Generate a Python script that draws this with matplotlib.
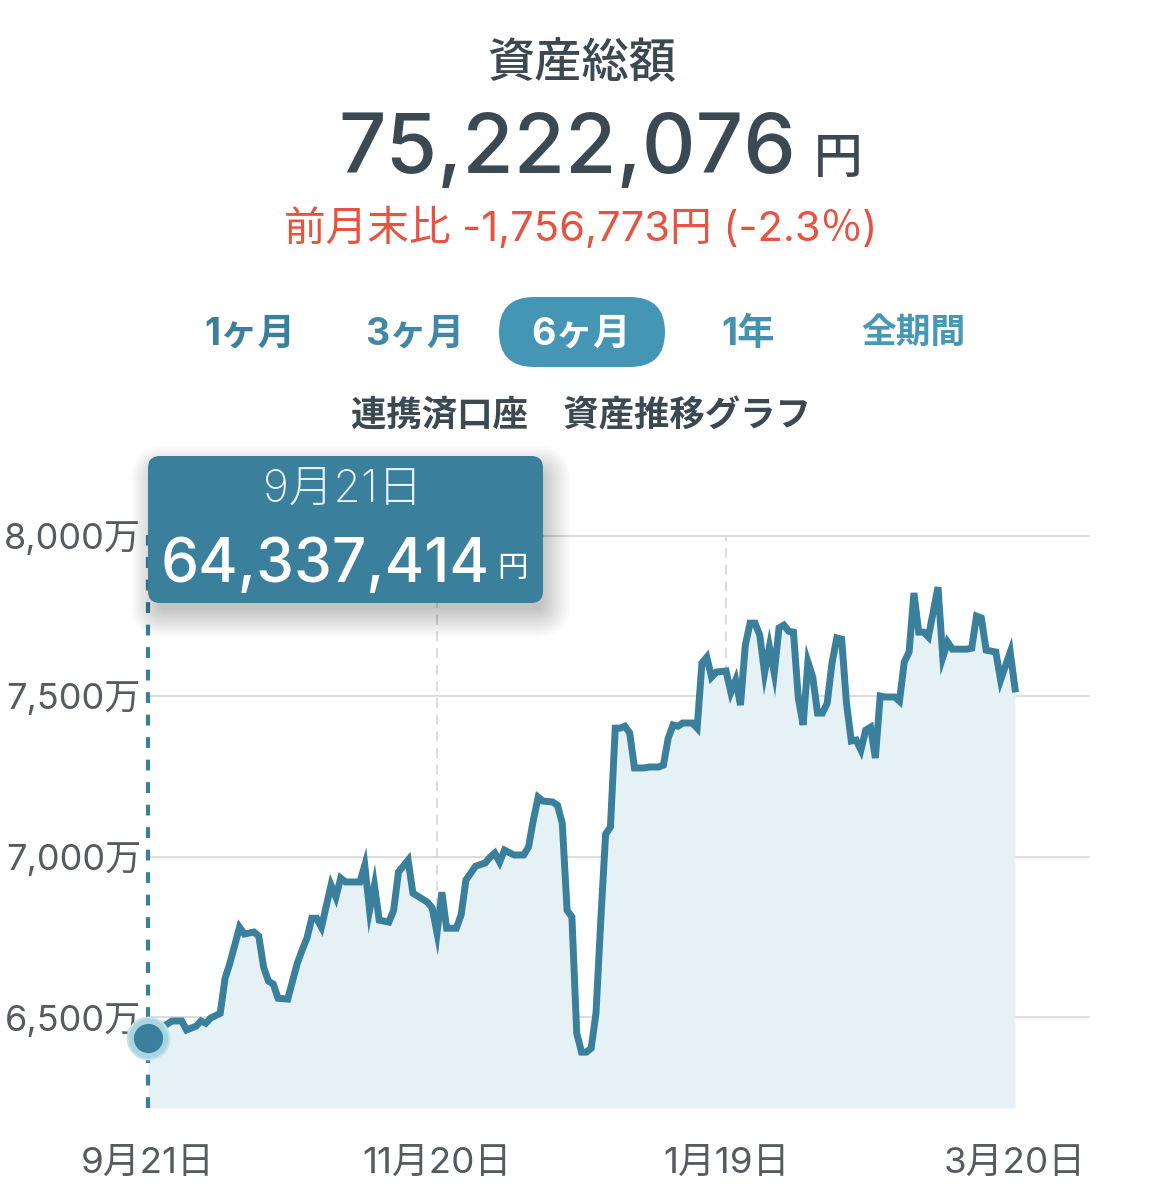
import matplotlib
matplotlib.use("Agg")
import matplotlib.pyplot as plt
from matplotlib.patches import FancyBboxPatch

# digits look wider than the CJK font's, so Inter goes first
plt.rcParams['font.family'] = ['Inter', 'Noto Sans CJK JP', 'DejaVu Sans']

W = 1163
H = 1199

# days since 9/21, total assets (unit: 万円)
days = [0, 3, 5, 7, 8, 10, 11, 12, 13, 15, 16, 17, 19, 20, 22, 23, 24, 25, 26, 27, 29,
        31, 32, 33, 34, 35, 36, 38, 39, 40, 41, 44, 45, 46, 47, 48, 50, 51, 52, 54, 55,
        58, 59, 60, 61, 62, 64, 65, 66, 68, 70, 71, 72, 73, 74, 76, 78, 79, 80, 81, 82,
        84, 85, 86, 87, 88, 89, 90, 91, 92, 93, 94, 95, 96, 97, 98, 99, 100, 101, 103,
        104, 106, 107, 108, 109, 110, 111, 113, 114, 115, 116, 117, 118, 120, 121, 122,
        123, 124, 125, 126, 127, 128, 129, 130, 131, 132, 133, 134, 135, 136, 137, 138,
        139, 140, 141, 142, 143, 144, 145, 146, 147, 148, 149, 150, 151, 152, 153, 155,
        156, 157, 158, 159, 160, 161, 162, 164, 165, 166, 167, 170, 171, 172, 173, 174,
        176, 177, 179, 180]
assets = [6434, 6469, 6488, 6488, 6460, 6472, 6488, 6481, 6497, 6512, 6621, 6668, 6780,
          6759, 6765, 6752, 6656, 6612, 6603, 6559, 6556, 6668, 6709, 6746, 6808, 6808,
          6780, 6911, 6874, 6933, 6921, 6921, 6973, 6833, 6911, 6802, 6796, 6833, 6952,
          6989, 6886, 6858, 6840, 6762, 6889, 6777, 6777, 6818, 6927, 6970, 6980, 6998,
          7011, 6983, 7020, 7005, 7005, 7030, 7114, 7185, 7173, 7170, 7160, 7104, 6833,
          6812, 6450, 6391, 6391, 6403, 6512, 6802, 7070, 7092, 7400, 7400, 7406, 7385,
          7276, 7276, 7279, 7279, 7285, 7369, 7410, 7406, 7416, 7416, 7400, 7603, 7621,
          7559, 7575, 7578, 7512, 7550, 7472, 7659, 7727, 7727, 7690, 7572, 7653, 7572,
          7712, 7721, 7702, 7699, 7494, 7410, 7606, 7559, 7447, 7447, 7478, 7603, 7681,
          7677, 7478, 7360, 7363, 7332, 7394, 7403, 7307, 7500, 7497, 7497, 7484, 7606,
          7637, 7821, 7699, 7699, 7684, 7839, 7621, 7668, 7646, 7646, 7649, 7749, 7743,
          7643, 7637, 7550, 7637, 7522]

y_ticks = [6500, 7000, 7500, 8000]
y_labels = ['6,500万', '7,000万', '7,500万', '8,000万']
x_ticks = [0, 60, 120, 180]
x_labels = ['9月21日', '11月20日', '1月19日', '3月20日']
selected_day = 0
selected_value = 6434

TEAL = '#3a7f9b'
DARK = '#3b4a52'
GRAY = '#555c60'
RED = '#e8533f'


def put(x, y, s, **kw):
    # x, y in pixels from the top left of the picture
    kw.setdefault('ha', 'center')
    kw.setdefault('va', 'center')
    return fig.text(x / W, 1 - y / H, s, **kw)


def box(x0, y0, x1, y1, r, **kw):
    p = FancyBboxPatch((x0, H - y1), x1 - x0, y1 - y0,
                       boxstyle='round,pad=0,rounding_size=%g' % r,
                       transform=px, **kw)
    fig.add_artist(p)
    return p


fig = plt.figure(figsize=(W / 100, H / 100), dpi=100, facecolor='white')
px = matplotlib.transforms.Affine2D().scale(1.0)

# chart
ax = fig.add_axes([148 / W, 1 - 1108 / H, 941 / W, 572.5 / H])
ax.set_xlim(0, 195.35)
ax.set_ylim(6217, 8000)
for s in ax.spines.values():
    s.set_visible(False)

for v in y_ticks:
    ax.axhline(v, color='#d6d8d8', lw=1.2, zorder=1, clip_on=False)
for d in x_ticks[1:3]:
    ax.axvline(d, color='#d4d8d8', lw=1.2, ls=(0, (6, 4)), zorder=1)
ax.fill_between(days, assets, 6217, color='#e6f1f5', lw=0, zorder=2)
ax.axvline(selected_day, color=TEAL, lw=3, ls=(0, (2.6, 2.8)), zorder=3, clip_on=False)
ax.plot(days, assets, color=TEAL, lw=5, solid_joinstyle='miter', zorder=4)

ax.plot([selected_day], [selected_value], 'o', ms=30, mfc='#a9d5e0', mec='#c4e2ea', mew=1.5,
        zorder=5, clip_on=False)
ax.plot([selected_day], [selected_value], 'o', ms=20, mfc=TEAL, mec=TEAL, zorder=6, clip_on=False)

ax.set_yticks(y_ticks)
ax.set_yticklabels(y_labels, fontsize=26, color=GRAY)
ax.set_xticks(x_ticks)
ax.set_xticklabels(x_labels, fontsize=26.5, color=GRAY)
ax.tick_params(axis='y', length=0, pad=5)
ax.tick_params(axis='x', length=0, pad=28)

# header
put(582, 65, '資産総額', fontsize=34, color=DARK, fontweight='medium')
put(567, 151, '75,222,076', fontsize=60, color=DARK, fontweight='medium')
put(838, 160, '円', fontsize=35, color=DARK, fontweight='medium')
put(581, 228, '前月末比 -1,756,773円 (-2.3％)', fontsize=30, color=RED)

# range buttons
box(499, 297, 665, 367, 35, fc='#4596b5', ec='none')
put(250, 335, '1ヶ月', fontsize=27, color='#3a7f9b', fontweight='bold')
put(415, 335, '3ヶ月', fontsize=27, color='#4088a5', fontweight='bold')
put(581, 335, '6ヶ月', fontsize=27, color='white', fontweight='bold')
put(748, 335, '1年', fontsize=27, color='#4591ae', fontweight='bold')
put(913, 333, '全期間', fontsize=25, color='#4798b6', fontweight='bold')

put(581, 416, '連携済口座　資産推移グラフ', fontsize=25.5, color=DARK, fontweight='bold')

# tooltip with a soft shadow, many thin layers so it fades out
for grow in range(22, -8, -2):
    box(148 - grow + 5, 456 - grow + 12, 543 + grow + 5, 603 + grow + 12, max(12 + grow, 4),
        fc='black', ec='none', alpha=0.016)
box(148, 456, 543, 603, 12, fc=TEAL, ec='none')
put(343, 490, '9月21日', fontsize=32, color='#e8f3f6', fontweight='light')
put(325, 566, '64,337,414', fontsize=43.5, color='white', fontweight='medium')
put(512, 569, '円', fontsize=22, color='white')

fig.savefig('out.png', dpi=100)
